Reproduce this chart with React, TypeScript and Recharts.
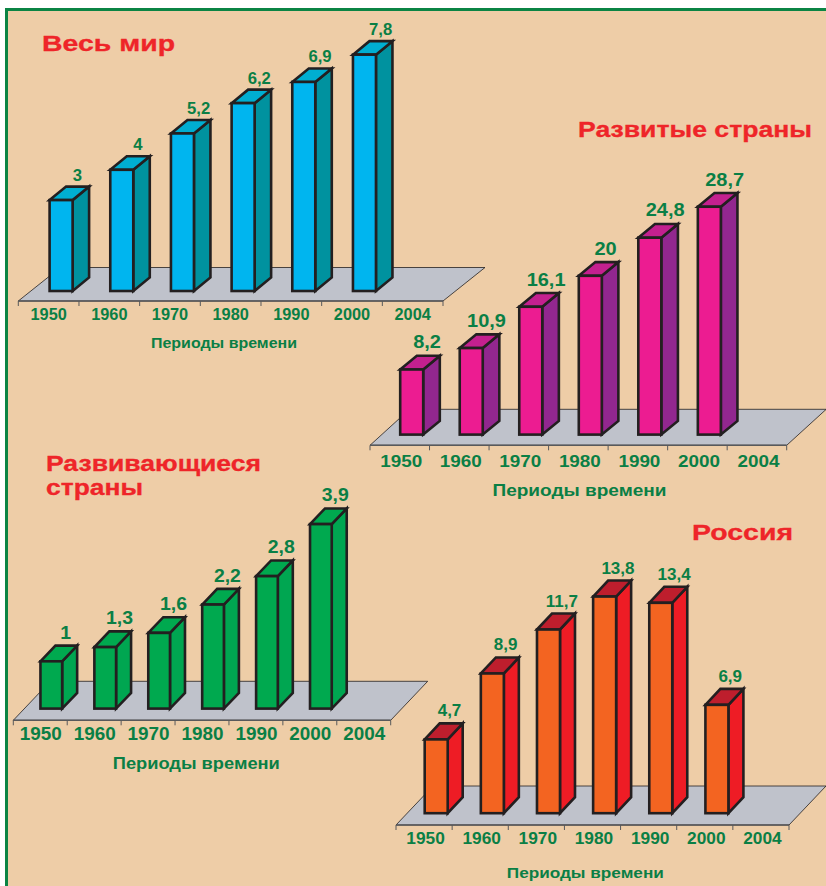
import { BarChart, Bar, XAxis, YAxis, LabelList, Label, usePlotArea } from "recharts";

const years = ["1950", "1960", "1970", "1980", "1990", "2000", "2004"];

// values per period, the last period has no bar
const worldValues = [3, 4, 5.2, 6.2, 6.9, 7.8, null];
const developedValues = [8.2, 10.9, 16.1, 20, 24.8, 28.7, null];
const developingValues = [1, 1.3, 1.6, 2.2, 2.8, 3.9, null];
const russiaValues = [4.7, 8.9, 11.7, 13.8, 13.4, 6.9, null];

const axisTitle = "Периоды времени";

const PAGE_W = 826;
const PAGE_H = 886;
const AXIS_H = 30;
const FONT = "'Liberation Sans', Arial, sans-serif";
const GREEN = "#0A7F45";
const RED = "#EE2529";
const INK = "#231F20";

const panels = [
    {
        values: worldValues,
        titles: [{ text: "Весь мир", x: 42, y: 51, width: 133, size: 22 }],
        colors: { front: "#00B5EF", side: "#00929F", top: "#00AED1" },
        plot: { x: 18.3, width: 424.7, bottom: 291, perUnit: 30.3, max: 8 },
        box: { width: 23, dx: 16.5, dy: 13.5, shift: 0.8 },
        floor: { front: 10, dx: 42, dy: 33.5 },
        tick: { size: 16, stretch: 1.02, y: 28.5, dx: 0 },
        label: { size: 16, stretch: 1.04, dx: 28.5, gap: 6 },
        axis: { size: 14, x: 224, y: 56.5, width: 146 },
    },
    {
        values: developedValues,
        titles: [{ text: "Развитые страны", x: 578, y: 137, width: 234, size: 22 }],
        colors: { front: "#EC1C91", side: "#92278F", top: "#C4208F" },
        plot: { x: 370, width: 416.7, bottom: 434.6, perUnit: 7.94, max: 30 },
        box: { width: 23, dx: 16.6, dy: 13.7, shift: 0.7 },
        floor: { front: 10.7, dx: 39.5, dy: 36 },
        tick: { size: 17, stretch: 1.11, y: 32.7, dx: 1.5 },
        label: { size: 18, stretch: 1.11, dx: 27.5, gap: 7.5 },
        axis: { size: 16.5, x: 579.5, y: 61.4, width: 174 },
    },
    {
        values: developingValues,
        titles: [
            { text: "Развивающиеся", x: 46, y: 471, width: 215, size: 22 },
            { text: "страны", x: 46, y: 495, width: 97, size: 22 },
        ],
        colors: { front: "#00A94F", side: "#00A651", top: "#00A94F" },
        plot: { x: 13.3, width: 377.4, bottom: 708.6, perUnit: 47.3, max: 4 },
        box: { width: 21.7, dx: 15, dy: 15.7, shift: 0.3 },
        floor: { front: 11.7, dx: 37, dy: 39 },
        tick: { size: 17.5, stretch: 1.08, y: 31.4, dx: 0.5 },
        label: { size: 18, stretch: 1.08, dx: 25.5, gap: 7 },
        axis: { size: 16, x: 196.3, y: 60.7, width: 167 },
    },
    {
        values: russiaValues,
        titles: [{ text: "Россия", x: 692, y: 540, width: 101, size: 22 }],
        colors: { front: "#F36421", side: "#EE1C25", top: "#BE1E2D" },
        plot: { x: 396, width: 393, bottom: 813.2, perUnit: 15.7, max: 14 },
        box: { width: 23, dx: 15, dy: 16, shift: 0.2 },
        floor: { front: 11.8, dx: 37, dy: 39 },
        tick: { size: 16.5, stretch: 1.05, y: 30.8, dx: 1.5 },
        label: { size: 17, stretch: 1.0, dx: 25, gap: 7 },
        axis: { size: 15.5, x: 585.3, y: 65.1, width: 157 },
    },
];

type Panel = (typeof panels)[number];

// Grey floor under the bars with its tick marks along the front edge
const Floor = ({ panel }: { panel: Panel }) => {
    const area = usePlotArea();
    if (!area) return null;
    const { floor } = panel;
    const left = area.x;
    const right = area.x + area.width;
    const front = area.y + area.height + floor.front;
    const back = front - floor.dy;
    const band = area.width / years.length;
    const marks = Array.from({ length: years.length + 1 }, (_, i) => left + i * band);
    return (
        <g>
            <polygon
                points={`${left},${front} ${right},${front} ${right + floor.dx},${back} ${left + floor.dx},${back}`}
                fill="#BFC2CB"
                stroke={INK}
                strokeWidth={0.8}
            />
            <line x1={left} x2={right} y1={front} y2={front} stroke="#58595B" strokeWidth={1.4} />
            {marks.map((x) => (
                <line key={x} x1={x} x2={x} y1={front} y2={front + 5} stroke="#58595B" strokeWidth={1} />
            ))}
        </g>
    );
};

// Front, side and top faces of one column
const BoxBar = ({ x, y, width, height, payload, panel }: any) => {
    if (payload.value == null) return null;
    const { box, colors } = panel;
    const left = x + width / 2 + box.shift;
    const right = left + width;
    const bottom = y + height;
    const { dx, dy } = box;
    const edge = { stroke: INK, strokeWidth: 2.6 };
    return (
        <g>
            <polygon
                points={`${right},${y} ${right + dx},${y - dy} ${right + dx},${bottom - dy} ${right},${bottom}`}
                fill={colors.side}
                {...edge}
            />
            <polygon
                points={`${left},${y} ${left + dx},${y - dy} ${right + dx},${y - dy} ${right},${y}`}
                fill={colors.top}
                {...edge}
            />
            <rect x={left} y={y} width={width} height={height} fill={colors.front} {...edge} />
        </g>
    );
};

const ValueLabel = ({ x, y, width, value, panel }: any) => {
    if (value == null) return null;
    const { label, box } = panel;
    const cx = x + width / 2 + label.dx;
    const cy = y - box.dy - label.gap;
    return (
        <text
            transform={`translate(${cx},${cy}) scale(${label.stretch},1)`}
            textAnchor="middle"
            fontFamily={FONT}
            fontWeight="bold"
            fontSize={label.size}
            fill={GREEN}
        >
            {String(value).replace(".", ",")}
        </text>
    );
};

const YearTick = ({ x, payload, panel }: any) => {
    const { tick, plot } = panel;
    return (
        <text
            transform={`translate(${x + tick.dx},${plot.bottom + tick.y}) scale(${tick.stretch},1)`}
            textAnchor="middle"
            fontFamily={FONT}
            fontWeight="bold"
            fontSize={tick.size}
            fill={GREEN}
        >
            {payload.value}
        </text>
    );
};

const ChartPanel = ({ panel }: { panel: Panel }) => {
    const { plot, values, axis, titles } = panel;
    const data = years.map((year, i) => ({ year, value: values[i] }));
    const plotHeight = plot.max * plot.perUnit;
    const margin = {
        left: plot.x,
        right: PAGE_W - plot.x - plot.width,
        top: plot.bottom - plotHeight,
        bottom: PAGE_H - plot.bottom - AXIS_H,
    };
    return (
        <div style={{ position: "absolute", left: 0, top: 0 }}>
            <BarChart width={PAGE_W} height={PAGE_H} data={data} margin={margin} barSize={panel.box.width}>
                <Floor panel={panel} />
                <XAxis
                    dataKey="year"
                    height={AXIS_H}
                    interval={0}
                    axisLine={false}
                    tickLine={false}
                    tick={(props: any) => <YearTick {...props} panel={panel} />}
                >
                    <Label
                        content={() => (
                            <text
                                x={axis.x}
                                y={plot.bottom + axis.y}
                                textAnchor="middle"
                                textLength={axis.width}
                                lengthAdjust="spacingAndGlyphs"
                                fontFamily={FONT}
                                fontWeight="bold"
                                fontSize={axis.size}
                                fill={GREEN}
                            >
                                {axisTitle}
                            </text>
                        )}
                    />
                </XAxis>
                <YAxis hide type="number" domain={[0, plot.max]} />
                <Bar
                    dataKey="value"
                    isAnimationActive={false}
                    shape={(props: any) => <BoxBar {...props} panel={panel} />}
                >
                    <LabelList dataKey="value" content={(props: any) => <ValueLabel {...props} panel={panel} />} />
                </Bar>
                {titles.map((t) => (
                    <text
                        key={t.text}
                        x={t.x}
                        y={t.y}
                        textLength={t.width}
                        lengthAdjust="spacingAndGlyphs"
                        fontFamily={FONT}
                        fontWeight="bold"
                        fontSize={t.size}
                        fill={RED}
                        stroke={RED}
                        strokeWidth={0.3}
                    >
                        {t.text}
                    </text>
                ))}
            </BarChart>
        </div>
    );
};

const App = () => {
    return (
        <div style={{ position: "absolute", left: 0, top: 0, width: PAGE_W, height: PAGE_H, overflow: "hidden", background: "#fff" }}>
            <div
                style={{
                    position: "absolute",
                    left: 5,
                    top: 8,
                    right: 0,
                    bottom: 0,
                    background: "#EECDA7",
                    borderLeft: "3px solid #0B8444",
                    borderTop: "3px solid #0B8444",
                }}
            />
            {panels.map((panel) => (
                <ChartPanel key={panel.titles[0].text} panel={panel} />
            ))}
        </div>
    );
};

export default App;
